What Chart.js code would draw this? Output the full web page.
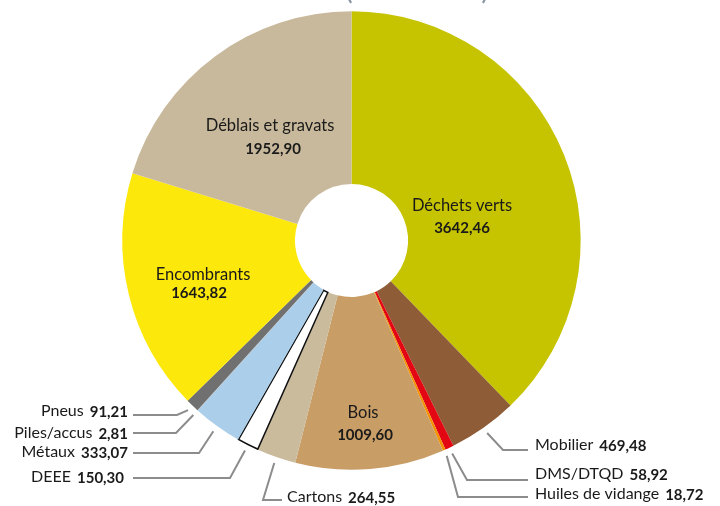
<!DOCTYPE html>
<html>
<head>
<meta charset="utf-8">
<script src="https://cdn.jsdelivr.net/npm/chart.js@4/dist/chart.umd.min.js"></script>
<style>
html,body{margin:0;padding:0;background:#fff;}
#wrap{position:relative;width:720px;height:506px;}
</style>
</head>
<body>
<div id="wrap"><canvas id="c" width="720" height="506"></canvas></div>
<script>
// ---- Data ----
const categories = ["Déchets verts","Mobilier","DMS/DTQD","Huiles de vidange","Bois","Cartons","DEEE","Métaux","Piles/accus","Pneus","Encombrants","Déblais et gravats"];
const tonnages = [3642.46,469.48,58.92,18.72,1009.60,264.55,150.30,333.07,2.81,91.21,1643.82,1952.90];
const valueLabels = ["3642,46","469,48","58,92","18,72","1009,60","264,55","150,30","333,07","2,81","91,21","1643,82","1952,90"];
const titleText = "(en tonnes)";

// ---- Styles ----
const colors = ["#c6c400","#8e5d37","#e30613","#f39200","#c99d66","#cbbb9d","#ffffff","#abcfea","#b8b8b8","#707070","#fde80c","#c9b99c"];
const borderColors = colors.map((c,i)=> i===6 ? "#111111" : c);
const borderWidths = colors.map((c,i)=> i===6 ? 1.2 : 0);

// label layout (annotation placement, not data)
const layout = [
  {type:"in", nx:462, ny:206, vx:462, vy:228},
  {type:"out", kx:503, ky:450, ex:528, tx:535, ty:445, align:"left"},
  {type:"out", kx:467, ky:480, ex:528, tx:535, ty:474, align:"left"},
  {type:"out", kx:458, ky:497, ex:528, tx:535, ty:494, align:"left"},
  {type:"in", nx:363, ny:413, vx:365, vy:435},
  {type:"out", kx:263, ky:500, ex:282, tx:287, ty:497, align:"left"},
  {type:"out", kx:230, ky:478, ex:133, tx:124, ty:477, align:"right"},
  {type:"out", kx:199, ky:453, ex:133, tx:128, ty:452, align:"right"},
  {type:"out", kx:176, ky:433, ex:133, tx:128, ty:433, align:"right"},
  {type:"out", kx:177, ky:415, ex:133, tx:128, ty:411, align:"right"},
  {type:"in", nx:203, ny:275, vx:199, vy:293},
  {type:"in", nx:270, ny:126, vx:273, vy:149}
];

const FONT = "Lato, 'Open Sans', sans-serif";
const nameFont = "16px " + FONT;
const valFont = "bold 15px " + FONT;
const TEXT = "#1a1a1a";
const LINE = "#8c8c8c";

const labelPlugin = {
  id: "labels",
  afterDraw(chart) {
    const ctx = chart.ctx;
    const meta = chart.getDatasetMeta(0);
    ctx.save();
    // partially visible title
    ctx.font = "30px " + FONT;
    ctx.fillStyle = "#8996a3";
    ctx.textAlign = "center";
    ctx.textBaseline = "alphabetic";
    ctx.fillText(titleText, 417, -1);

    meta.data.forEach((arc, i) => {
      const L = layout[i];
      if (!L) return;
      const name = categories[i], val = valueLabels[i];
      ctx.textBaseline = "middle";
      ctx.fillStyle = TEXT;
      if (L.type === "in") {
        ctx.textAlign = "center";
        ctx.font = "16.5px " + FONT;
        ctx.fillText(name, L.nx, L.ny);
        ctx.font = valFont;
        ctx.fillText(val, L.vx, L.vy);
      } else {
        const p = arc.getProps(["x","y","startAngle","endAngle","outerRadius"], true);
        const mid = (p.startAngle + p.endAngle) / 2;
        const r = p.outerRadius + 6;
        const sx = p.x + Math.cos(mid) * r, sy = p.y + Math.sin(mid) * r;
        ctx.strokeStyle = LINE;
        ctx.lineWidth = 2;
        ctx.beginPath();
        ctx.moveTo(sx, sy);
        ctx.lineTo(L.kx, L.ky);
        ctx.lineTo(L.ex, L.ky);
        ctx.stroke();
        ctx.font = nameFont;
        const nw = ctx.measureText(name).width;
        ctx.font = valFont;
        const vw = ctx.measureText(val).width;
        const gap = 6;
        ctx.textAlign = "left";
        let x0 = L.align === "left" ? L.tx : L.tx - (nw + gap + vw);
        ctx.font = nameFont;
        ctx.fillText(name, x0, L.ty);
        ctx.font = valFont;
        ctx.fillText(val, x0 + nw + gap, L.ty + 1);
      }
    });
    ctx.restore();
  }
};

new Chart(document.getElementById("c"), {
  type: "doughnut",
  data: {
    labels: categories,
    datasets: [{
      data: tonnages,
      backgroundColor: colors,
      borderColor: borderColors,
      borderWidth: borderWidths,
      borderAlign: "inner",
      hoverOffset: 0
    }]
  },
  options: {
    responsive: false,
    animation: false,
    cutout: "24.5%",
    layout: { padding: { left: 122, right: 139, top: 11, bottom: 36 } },
    plugins: { legend: { display: false }, tooltip: { enabled: false }, title: { display: false } }
  },
  plugins: [labelPlugin]
});
</script>
</body>
</html>
